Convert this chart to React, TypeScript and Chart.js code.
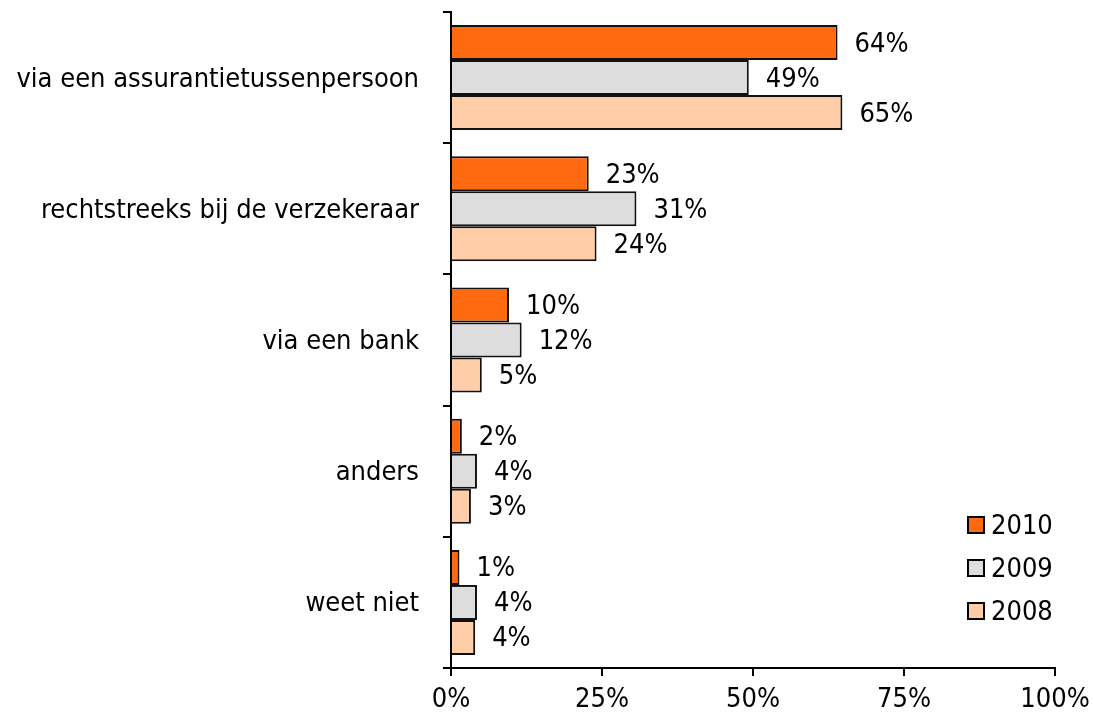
import React, { useEffect, useRef } from "react";
import { Chart, registerables } from "chart.js";

Chart.register(...registerables);

const categories = [
  "via een assurantietussenpersoon",
  "rechtstreeks bij de verzekeraar",
  "via een bank",
  "anders",
  "weet niet",
];
const series2010 = [64, 22.8, 9.6, 1.8, 1.4];
const series2009 = [49.3, 30.7, 11.7, 4.3, 4.3];
const series2008 = [64.8, 24.1, 5.1, 3.3, 4.0];
const seriesNames = ["2010", "2009", "2008"];
const seriesColors = ["#FF6A10", "#DDDDDD", "#FFCDA8"];
const xTicks = [0, 25, 50, 75, 100];

const FONT = "'DejaVu Sans Condensed', 'DejaVu Sans', sans-serif";
const FS = 27;

const labelPlugin = {
  id: "barLabels",
  afterDatasetsDraw(chart: any) {
    const ctx = chart.ctx;
    ctx.save();
    ctx.font = `${FS}px ${FONT}`;
    ctx.fillStyle = "#000";
    ctx.textAlign = "left";
    ctx.textBaseline = "middle";
    chart.data.datasets.forEach((ds: any, i: number) => {
      const meta = chart.getDatasetMeta(i);
      meta.data.forEach((bar: any, j: number) => {
        ctx.fillText(Math.round(ds.data[j]) + "%", bar.x + 17, bar.y + 2);
      });
    });
    ctx.restore();
  },
};

const legendPlugin = {
  id: "customLegend",
  afterDraw(chart: any) {
    const ctx = chart.ctx;
    ctx.save();
    ctx.font = `${FS}px ${FONT}`;
    ctx.textAlign = "left";
    ctx.textBaseline = "middle";
    const x0 = 968;
    const y0 = 525;
    const gap = 43;
    seriesNames.forEach((name, i) => {
      const cy = y0 + i * gap;
      ctx.fillStyle = seriesColors[i];
      ctx.fillRect(x0, cy - 8, 16, 16);
      ctx.strokeStyle = "#000";
      ctx.lineWidth = 2;
      ctx.strokeRect(x0, cy - 8, 16, 16);
      ctx.fillStyle = "#000";
      ctx.fillText(name, x0 + 23, cy + 2);
    });
    ctx.restore();
  },
};

export default function App() {
  const ref = useRef<HTMLCanvasElement>(null);
  useEffect(() => {
    if (!ref.current) return;
    const datasets = [series2010, series2009, series2008].map((d, i) => ({
      label: seriesNames[i],
      data: d,
      backgroundColor: seriesColors[i],
      borderColor: "#111",
      borderWidth: 2,
      categoryPercentage: 0.8,
      barPercentage: 1.0,
    }));
    const chart = new Chart(ref.current, {
      type: "bar",
      data: { labels: categories, datasets },
      options: {
        indexAxis: "y",
        animation: false,
        responsive: false,
        maintainAspectRatio: false,
        layout: { padding: { top: 12, right: 38, left: 0, bottom: 0 } },
        plugins: {
          legend: { display: false },
          tooltip: { enabled: false },
        },
        scales: {
          x: {
            min: 0,
            max: 100,
            afterBuildTicks(scale: any) {
              scale.ticks = xTicks.map((v) => ({ value: v }));
            },
            afterFit(scale: any) {
              scale.height = 55;
              scale.paddingLeft = 0;
              scale.paddingRight = 0;
            },
            ticks: {
              callback: (v: any) => v + "%",
              color: "#000",
              font: { family: FONT, size: FS },
              padding: 8,
              maxRotation: 0,
              autoSkip: false,
            },
            grid: {
              drawOnChartArea: false,
              drawTicks: true,
              tickLength: 8,
              color: "#000",
              lineWidth: 2,
            },
            border: { color: "#000", width: 2 },
          },
          y: {
            afterFit(scale: any) {
              scale.width = 451;
              scale.paddingTop = 0;
              scale.paddingBottom = 0;
            },
            ticks: {
              color: "#000",
              font: { family: FONT, size: FS },
              padding: 24,
              labelOffset: 2,
            },
            grid: {
              offset: true,
              drawOnChartArea: false,
              drawTicks: true,
              tickLength: 8,
              color: "#000",
              lineWidth: 2,
            },
            border: { color: "#000", width: 2 },
          },
        },
      },
      plugins: [labelPlugin, legendPlugin],
    });
    return () => chart.destroy();
  }, []);
  return (
    <div style={{ position: "fixed", left: 0, top: 0, width: 1093, height: 723, background: "#fff" }}>
      <canvas ref={ref} width={1093} height={723} />
    </div>
  );
}
